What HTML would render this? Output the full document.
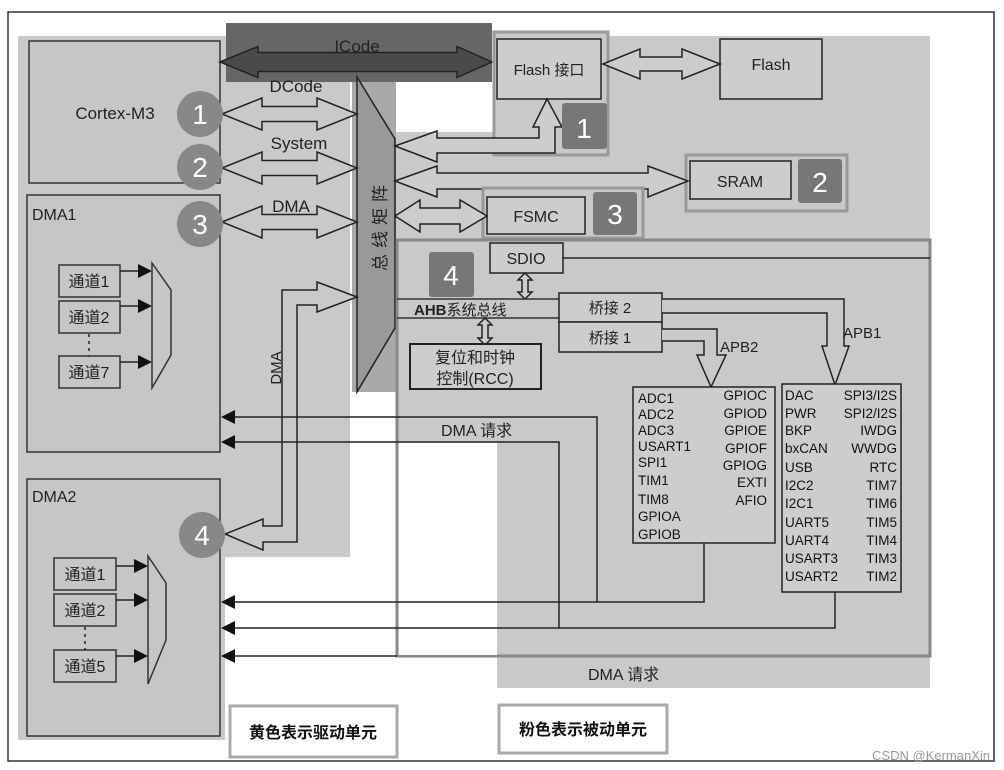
<!DOCTYPE html>
<html><head><meta charset="utf-8"><style>
html,body{margin:0;padding:0;background:#fff;}
svg{display:block;font-family:"Liberation Sans","Noto Sans CJK SC",sans-serif;}
</style></head><body>
<svg width="1004" height="770" viewBox="0 0 1004 770" xmlns="http://www.w3.org/2000/svg">
<rect x="0" y="0" width="1004" height="770" fill="#fff"/>
<rect x="8" y="12" width="986" height="749" fill="#fff" stroke="#333" stroke-width="1.5"/>
<g fill="#c9c9c9">
<rect x="18" y="36" width="332" height="521"/>
<rect x="18" y="557" width="207" height="183"/>
<rect x="600" y="36" width="330" height="100"/>
<rect x="396" y="132" width="534" height="311"/>
<rect x="497" y="443" width="433" height="245"/>
</g>
<rect x="352" y="80" width="44" height="312" fill="#a9a9a9"/>
<rect x="226" y="23" width="266" height="59" fill="#666"/>
<polygon points="357,77 395,139 395,328 357,392" fill="#999" stroke="#222" stroke-width="1.5"/>
<text transform="translate(386,225) rotate(-90)" font-size="17" text-anchor="middle" fill="#222" letter-spacing="6">总线矩阵</text>

<g fill="#c6c6c6" stroke="#333" stroke-width="1.5">
<rect x="29" y="41" width="191" height="142"/>
<rect x="27" y="195" width="193" height="257"/>
<rect x="27" y="479" width="193" height="257"/>
</g>
<text x="115" y="119" font-size="17" text-anchor="middle" fill="#222">Cortex-M3</text>
<text x="32" y="220" font-size="16" fill="#222">DMA1</text>
<text x="32" y="502" font-size="16" fill="#222">DMA2</text>

<g fill="#c6c6c6" stroke="#333" stroke-width="1.5">
<rect x="59" y="265" width="61" height="32"/><rect x="59" y="301" width="61" height="32"/><rect x="59" y="356" width="61" height="32"/>
<rect x="54" y="558" width="62" height="32"/><rect x="54" y="594" width="62" height="32"/><rect x="54" y="650" width="62" height="32"/>
</g>
<g font-size="16" fill="#222" text-anchor="middle">
<text x="89" y="287">通道1</text><text x="89" y="323">通道2</text><text x="89" y="378">通道7</text>
<text x="85" y="580">通道1</text><text x="85" y="616">通道2</text><text x="85" y="672">通道5</text>
</g>
<g stroke="#222" stroke-width="1.5">
<line x1="89" y1="334" x2="89" y2="356" stroke-dasharray="3,4"/>
<line x1="85" y1="627" x2="85" y2="650" stroke-dasharray="3,4"/>
<line x1="120" y1="271" x2="140" y2="271"/><line x1="120" y1="306" x2="140" y2="306"/><line x1="120" y1="362" x2="140" y2="362"/>
<line x1="116" y1="566" x2="136" y2="566"/><line x1="116" y1="600" x2="136" y2="600"/><line x1="116" y1="656" x2="136" y2="656"/>
</g>
<g fill="#111">
<polygon points="138,264 152,271 138,278"/><polygon points="138,299 152,306 138,313"/><polygon points="138,355 152,362 138,369"/>
<polygon points="134,559 148,566 134,573"/><polygon points="134,593 148,600 134,607"/><polygon points="134,649 148,656 134,663"/>
</g>
<g fill="none" stroke="#333" stroke-width="1.5">
<polygon points="152,263 171,290 171,355 152,388"/>
<polygon points="148,556 166,583 166,640 148,684"/>
</g>

<polygon points="220,62 258,46.5 258,52.5 457,52.5 457,46.5 492,62 457,77.5 457,71.5 258,71.5 258,77.5" fill="#4a4a4a" stroke="#222" stroke-width="1.5"/>
<text x="357" y="52" font-size="17" text-anchor="middle" fill="#222">ICode</text>

<g fill="#c9c9c9" stroke="#222" stroke-width="1.5">
<polygon points="222,114 262,98 262,106.5 317,106.5 317,98 357,114 317,130 317,121.5 262,121.5 262,130"/>
<polygon points="222,168 262,152 262,160.5 317,160.5 317,152 357,168 317,184 317,175.5 262,175.5 262,184"/>
<polygon points="222,222 262,206 262,214.5 317,214.5 317,206 357,222 317,238 317,229.5 262,229.5 262,238"/>
<polygon points="357,297 317,282 317,290 282,290 282,526 263,526 263,519 225,534 263,550 263,542 297,542 297,305 317,305 317,312"/>
</g>
<text x="296" y="92" font-size="17" text-anchor="middle" fill="#222">DCode</text>
<text x="299" y="149" font-size="17" text-anchor="middle" fill="#222">System</text>
<text x="291" y="212" font-size="17" text-anchor="middle" fill="#222">DMA</text>
<text transform="translate(281,368) rotate(-90)" font-size="15" text-anchor="middle" fill="#222">DMA</text>

<g fill="#888"><circle cx="200" cy="114" r="23"/><circle cx="200" cy="167" r="23"/><circle cx="200" cy="224" r="23"/><circle cx="202" cy="535" r="23"/></g>
<g fill="#fff" font-size="28" text-anchor="middle">
<text x="200" y="124">1</text><text x="200" y="177">2</text><text x="200" y="234">3</text><text x="202" y="545">4</text>
</g>

<rect x="494" y="32" width="114" height="123" fill="#c9c9c9" stroke="#999" stroke-width="3"/>
<rect x="497" y="39" width="104" height="60" fill="#cdcdcd" stroke="#222" stroke-width="1.5"/>
<text x="549" y="75" font-size="15" text-anchor="middle" fill="#222">Flash 接口</text>
<rect x="720" y="39" width="102" height="60" fill="#cdcdcd" stroke="#222" stroke-width="1.5"/>
<text x="771" y="70" font-size="16" text-anchor="middle" fill="#222">Flash</text>
<polygon points="603,64 640,49 640,57 682,57 682,49 720,64 682,79 682,71 640,71 640,79" fill="#cdcdcd" stroke="#222" stroke-width="1.5"/>
<polygon points="395,146 437,131 437,138 539,138 539,127 533,127 547,99 562,127 555,127 555,153 437,153 437,162" fill="#cdcdcd" stroke="#222" stroke-width="1.5"/>
<rect x="562" y="103" width="45" height="46" rx="3" fill="#777"/>
<text x="584" y="138" font-size="28" fill="#fff" text-anchor="middle">1</text>

<rect x="686" y="155" width="161" height="56" fill="#c9c9c9" stroke="#999" stroke-width="3"/>
<rect x="690" y="161" width="101" height="38" fill="#cdcdcd" stroke="#222" stroke-width="1.5"/>
<text x="740" y="187" font-size="16" text-anchor="middle" fill="#222">SRAM</text>
<rect x="798" y="159" width="44" height="44" rx="3" fill="#777"/>
<text x="820" y="192" font-size="28" fill="#fff" text-anchor="middle">2</text>
<polygon points="395,181 437,166 437,173 648,173 648,166 688,181 648,197 648,189 437,189 437,197" fill="#cdcdcd" stroke="#222" stroke-width="1.5"/>

<rect x="483" y="188" width="160" height="50" fill="#c9c9c9" stroke="#999" stroke-width="3"/>
<rect x="487" y="197" width="98" height="37" fill="#cdcdcd" stroke="#222" stroke-width="1.5"/>
<text x="536" y="222" font-size="16" text-anchor="middle" fill="#222">FSMC</text>
<rect x="593" y="192" width="44" height="43" rx="3" fill="#777"/>
<text x="615" y="224" font-size="28" fill="#fff" text-anchor="middle">3</text>
<polygon points="395,216 420,200 420,208 460,208 460,200 487,216 460,232 460,224 420,224 420,232" fill="#cdcdcd" stroke="#222" stroke-width="1.5"/>

<rect x="397" y="240" width="533" height="416" fill="none" stroke="#888" stroke-width="3"/>
<rect x="398" y="443" width="99" height="212" fill="#fff"/>
<line x1="397" y1="443" x2="397" y2="656" stroke="#888" stroke-width="3"/>
<rect x="490" y="243" width="73" height="30" fill="#cdcdcd" stroke="#222" stroke-width="1.5"/>
<text x="526" y="264" font-size="16" text-anchor="middle" fill="#222">SDIO</text>
<line x1="563" y1="258" x2="930" y2="258" stroke="#222" stroke-width="1.5"/>
<rect x="429" y="252" width="45" height="45" rx="3" fill="#777"/>
<text x="451" y="285" font-size="28" fill="#fff" text-anchor="middle">4</text>
<polygon points="525,273 532,280 528,280 528,292 532,292 525,299 518,292 522,292 522,280 518,280" fill="#cdcdcd" stroke="#222" stroke-width="1.5"/>
<line x1="397" y1="299" x2="559" y2="299" stroke="#333" stroke-width="1.5"/>
<line x1="397" y1="318" x2="559" y2="318" stroke="#333" stroke-width="1.5"/>
<text x="414" y="315" font-size="15" font-weight="bold" fill="#222">AHB<tspan font-weight="normal">系统总线</tspan></text>
<polygon points="485,318 492,325 488,325 488,338 492,338 485,345 478,338 482,338 482,325 478,325" fill="#cdcdcd" stroke="#222" stroke-width="1.5"/>
<rect x="410" y="344" width="131" height="45" fill="#cdcdcd" stroke="#222" stroke-width="2"/>
<text x="475" y="363" font-size="16" text-anchor="middle" fill="#222">复位和时钟</text>
<text x="475" y="384" font-size="16" text-anchor="middle" fill="#222">控制(RCC)</text>
<rect x="559" y="293" width="103" height="29" fill="#cdcdcd" stroke="#222" stroke-width="1.5"/>
<rect x="559" y="322" width="103" height="30" fill="#cdcdcd" stroke="#222" stroke-width="1.5"/>
<text x="610" y="313" font-size="15" text-anchor="middle" fill="#222">桥接 2</text>
<text x="610" y="343" font-size="15" text-anchor="middle" fill="#222">桥接 1</text>
<polyline points="662,329 717,329 717,355 726,355 711,387 697,355 704,355 704,341 662,341" fill="#c9c9c9" stroke="#222" stroke-width="1.5"/>
<polyline points="662,299 844,299 844,346 849,346 835,385 822,346 827,346 827,313 662,313" fill="#c9c9c9" stroke="#222" stroke-width="1.5"/>
<text x="720" y="352" font-size="15" fill="#222">APB2</text>
<text x="843" y="338" font-size="15" fill="#222">APB1</text>

<rect x="633" y="387" width="142" height="156" fill="#cdcdcd" stroke="#222" stroke-width="1.5"/>
<rect x="782" y="384" width="119" height="208" fill="#cdcdcd" stroke="#222" stroke-width="1.5"/>
<g font-size="13.5" fill="#111">
<text x="638" y="403">ADC1</text><text x="638" y="419">ADC2</text><text x="638" y="435">ADC3</text><text x="638" y="451">USART1</text><text x="638" y="467">SPI1</text><text x="638" y="485">TIM1</text><text x="638" y="504">TIM8</text><text x="638" y="521">GPIOA</text><text x="638" y="539">GPIOB</text>
</g>
<g font-size="13.5" fill="#111" text-anchor="end">
<text x="767" y="400">GPIOC</text><text x="767" y="418">GPIOD</text><text x="767" y="435">GPIOE</text><text x="767" y="453">GPIOF</text><text x="767" y="470">GPIOG</text><text x="767" y="487">EXTI</text><text x="767" y="505">AFIO</text>
</g>
<g font-size="13.5" fill="#111">
<text x="785" y="400">DAC</text><text x="785" y="418">PWR</text><text x="785" y="435">BKP</text><text x="785" y="453">bxCAN</text><text x="785" y="472">USB</text><text x="785" y="490">I2C2</text><text x="785" y="508">I2C1</text><text x="785" y="527">UART5</text><text x="785" y="545">UART4</text><text x="785" y="563">USART3</text><text x="785" y="581">USART2</text>
</g>
<g font-size="13.5" fill="#111" text-anchor="end">
<text x="897" y="400">SPI3/I2S</text><text x="897" y="418">SPI2/I2S</text><text x="897" y="435">IWDG</text><text x="897" y="453">WWDG</text><text x="897" y="472">RTC</text><text x="897" y="490">TIM7</text><text x="897" y="508">TIM6</text><text x="897" y="527">TIM5</text><text x="897" y="545">TIM4</text><text x="897" y="563">TIM3</text><text x="897" y="581">TIM2</text>
</g>

<g fill="none" stroke="#222" stroke-width="1.5">
<polyline points="232,417 597,417 597,602"/>
<polyline points="232,442 559,442 559,628"/>
<polyline points="232,602 704,602 704,543"/>
<polyline points="232,628 835,628 835,592"/>
<line x1="232" y1="656" x2="397" y2="656"/>
</g>
<g fill="#111">
<polygon points="221,417 235,410 235,424"/><polygon points="221,442 235,435 235,449"/>
<polygon points="221,602 235,595 235,609"/><polygon points="221,628 235,621 235,635"/><polygon points="221,656 235,649 235,663"/>
</g>
<text x="441" y="436" font-size="16" fill="#222">DMA 请求</text>
<text x="588" y="680" font-size="16" fill="#222">DMA 请求</text>

<rect x="230" y="706" width="167" height="51" fill="#fff" stroke="#aaa" stroke-width="3"/>
<text x="313" y="738" font-size="16" font-weight="bold" text-anchor="middle" fill="#111">黄色表示驱动单元</text>
<rect x="499" y="705" width="168" height="48" fill="#fff" stroke="#aaa" stroke-width="3"/>
<text x="583" y="735" font-size="16" font-weight="bold" text-anchor="middle" fill="#111">粉色表示被动单元</text>
<text x="990" y="760" font-size="13" text-anchor="end" fill="#999">CSDN @KermanXin</text>
</svg>
</body></html>
